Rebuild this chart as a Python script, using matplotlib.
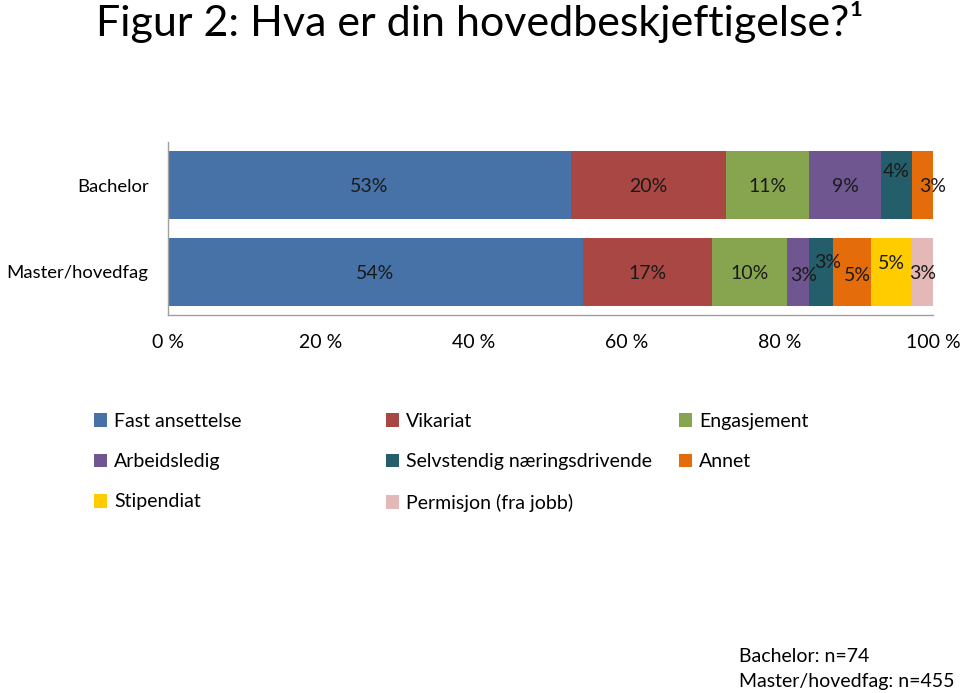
import matplotlib
matplotlib.use("Agg")
import matplotlib.pyplot as plt
from matplotlib.patches import Patch
import numpy as np

plt.rcParams['font.family'] = ['Lato', 'DejaVu Sans']

groups = ["Master/hovedfag", "Bachelor"]
categories = ["Fast ansettelse", "Vikariat", "Engasjement", "Arbeidsledig",
              "Selvstendig næringsdrivende", "Annet", "Stipendiat", "Permisjon (fra jobb)"]
bachelor = [52.7, 20.2, 10.9, 9.4, 4.1, 2.7, 0.0, 0.0]
master = [54.2, 16.9, 9.8, 2.9, 3.1, 5.0, 5.4, 2.7]
bachelor_labels = ["53%", "20%", "11%", "9%", "4%", "3%", "", ""]
master_labels = ["54%", "17%", "10%", "3%", "3%", "5%", "5%", "3%"]
ticks = [0, 20, 40, 60, 80, 100]
tick_labels = ["0 %", "20 %", "40 %", "60 %", "80 %", "100 %"]
notes = ["Bachelor: n=74", "Master/hovedfag: n=455"]

colors = ["#4672A8", "#A94744", "#87A54F", "#705690", "#245E6B", "#E46C0B", "#FFCC00", "#E5B8B8"]

# label offsets in points (dx, dy) for crowded segments
b_off = [(0, -1), (0, -1), (0, -1), (0, -1), (0, 10), (7, -1), (0, 0), (0, 0)]
m_off = [(0, -1), (0, -1), (0, -1), (4, -3), (5, 7), (4, -3), (0, 6), (0, -1)]

fig = plt.figure(figsize=(9.6, 6.93), dpi=100)
ax = fig.add_axes([168/960, 1-315/693, (933-168)/960, (315-142)/693])

data = np.array([master, bachelor])
labels = [master_labels, bachelor_labels]
offs = [m_off, b_off]
left = np.zeros(2)
for i, cat in enumerate(categories):
    vals = data[:, i]
    ax.barh([0, 1], vals, left=left, height=0.79, color=colors[i], label=cat)
    for g in range(2):
        if vals[g] > 0:
            cx = left[g] + vals[g] / 2
            dx, dy = offs[g][i]
            ax.annotate(labels[g][i], (cx, g), xytext=(dx, dy), textcoords="offset points",
                        ha="center", va="center", fontsize=14, color="#1a1a1a")
    left += vals

ax.set_xlim(0, 100)
ax.set_ylim(-0.5, 1.5)
ax.set_yticks([0, 1])
ax.set_yticklabels(groups, fontsize=13.3)
ax.set_xticks(ticks)
ax.set_xticklabels(tick_labels, fontsize=14)
ax.tick_params(axis="both", length=0)
ax.tick_params(axis="x", pad=14)
ax.tick_params(axis="y", pad=14)
for s in ["top", "right"]:
    ax.spines[s].set_visible(False)
for s in ["left", "bottom"]:
    ax.spines[s].set_color("#A0A0A0")
    ax.spines[s].set_linewidth(1.0)

fig.text(0.5, 1 - 22/693, "Figur 2: Hva er din hovedbeskjeftigelse?¹", ha="center", va="center",
         fontsize=31)

# legend: three columns, row-wise ordering
cols = [[0, 3, 6], [1, 4, 7], [2, 5]]
xs = [88, 380, 673]
for c, xpix in zip(cols, xs):
    handles = [Patch(facecolor=colors[k], edgecolor="none") for k in c]
    fig.legend(handles, [categories[k] for k in c], loc="upper left",
               bbox_to_anchor=(xpix/960, 1 - 407/693), frameon=False, fontsize=14,
               handlelength=0.7, handleheight=0.7, handletextpad=0.35, labelspacing=1.2,
               borderaxespad=0, borderpad=0.3)

fig.text(739/960, 1 - 657/693, notes[0], ha="left", va="center", fontsize=14)
fig.text(739/960, 1 - 682/693, notes[1], ha="left", va="center", fontsize=14)

fig.savefig("out.png", dpi=100)
